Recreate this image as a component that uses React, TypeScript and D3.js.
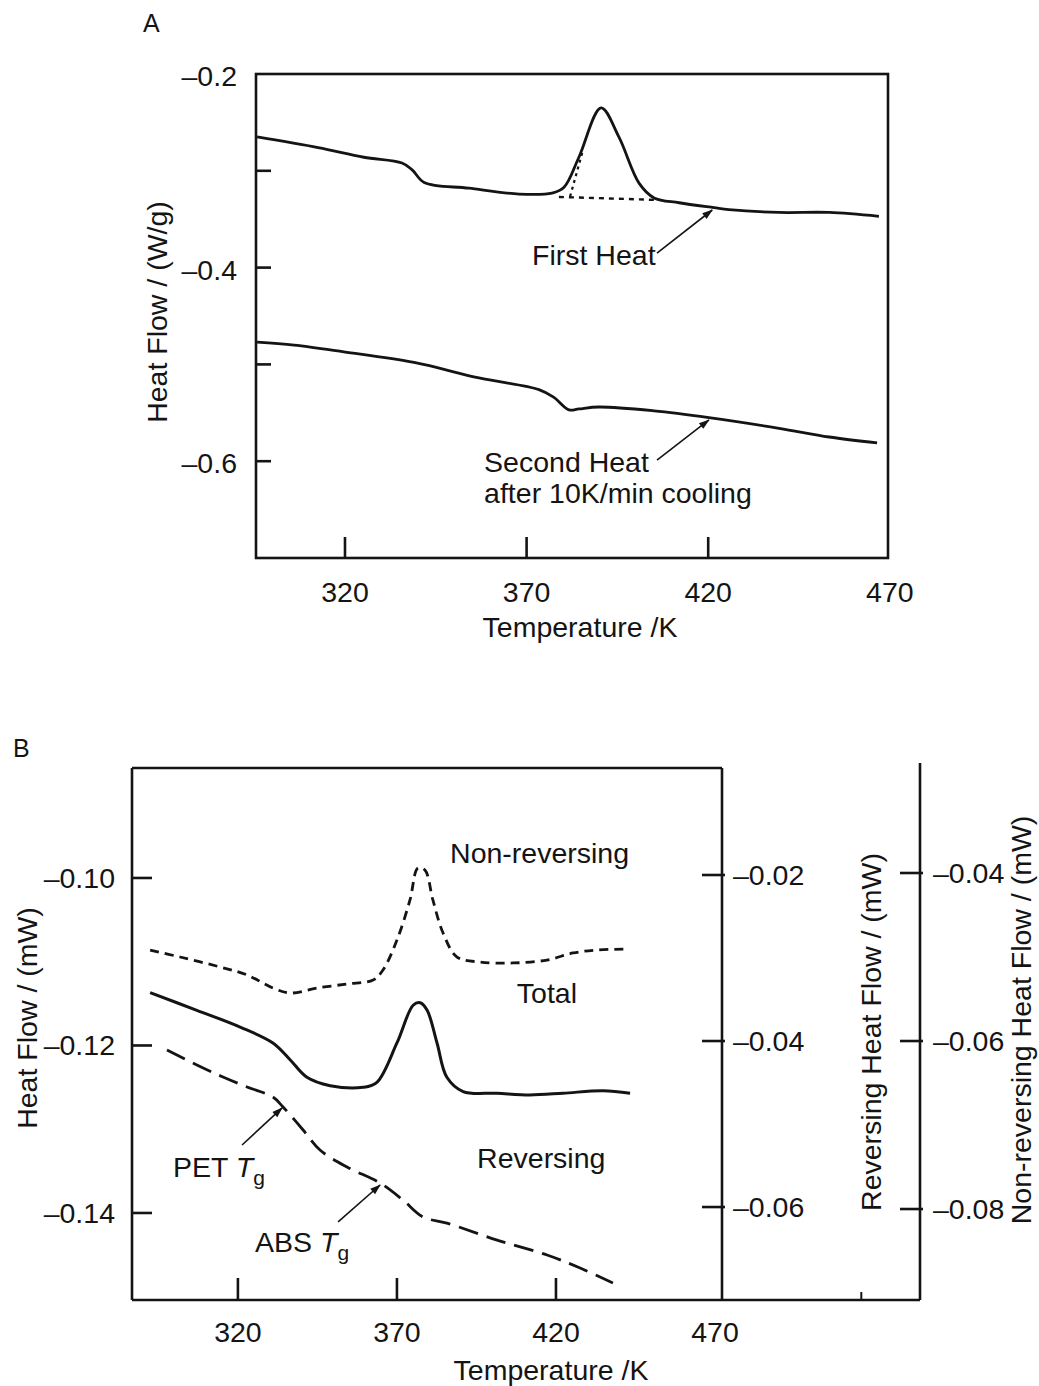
import React from "react";
import * as d3 from "d3";

// ---------------- Panel A data ----------------
const aXTickLabels = [320, 370, 420, 470];
const aXTickMarks = [320, 370, 420];
const aYTickMarks = [-0.3, -0.4, -0.5, -0.6];
const aYTickLabels = [-0.2, -0.4, -0.6];

const firstHeatT = [295.8, 312.6, 325.2, 335.7, 338.5, 341.8, 354.1, 367.9, 377.0, 380.3, 384.4, 390.5, 395.4, 401.0, 405.1, 412.0, 421.6, 425.7, 439.5, 453.3, 467.0];
const firstHeatHF = [-0.265, -0.276, -0.286, -0.292, -0.299, -0.312, -0.318, -0.324, -0.323, -0.317, -0.286, -0.235, -0.265, -0.313, -0.328, -0.333, -0.338, -0.340, -0.343, -0.343, -0.347];

const secondHeatT = [295.8, 306.0, 319.7, 339.0, 356.9, 373.4, 377.5, 381.7, 384.4, 389.9, 405.1, 420.2, 439.5, 453.3, 466.5];
const secondHeatHF = [-0.477, -0.480, -0.487, -0.498, -0.514, -0.526, -0.534, -0.547, -0.546, -0.544, -0.548, -0.555, -0.566, -0.575, -0.581];

const baselineT = [378.9, 405.1];
const baselineHF = [-0.327, -0.330];
const flankT = [385.3, 381.9];
const flankHF = [-0.2816, -0.3275];

// ---------------- Panel B data ----------------
const bXTickMarks = [320, 370, 420];
const bXTickLabels = [320, 370, 420, 470];
const bLeftTicks = [-0.10, -0.12, -0.14];
const bRevTicks = [-0.02, -0.04, -0.06];
const bNonRevTicks = [-0.04, -0.06, -0.08];

const totalT = [292.4, 307.1, 320.7, 331.0, 336.4, 341.7, 349.0, 359.3, 363.7, 370.0, 375.1, 377.3, 379.5, 382.6, 385.7, 390.8, 401.5, 411.8, 422.2, 434.8, 443.3];
const totalHF = [-0.1137, -0.1158, -0.1178, -0.1197, -0.1217, -0.1238, -0.1248, -0.1250, -0.1244, -0.1197, -0.1152, -0.1149, -0.1158, -0.1197, -0.1238, -0.1255, -0.1257, -0.1259, -0.1257, -0.1254, -0.1257];

const nonRevT = [292.4, 301.8, 314.4, 322.9, 331.0, 336.4, 344.9, 354.3, 362.5, 365.6, 370.0, 374.1, 376.6, 378.8, 381.3, 384.5, 388.9, 396.1, 406.5, 417.2, 425.4, 432.9, 442.3];
const nonRevHF = [-0.04917, -0.05000, -0.05119, -0.05214, -0.05369, -0.05429, -0.05369, -0.05321, -0.05274, -0.05155, -0.04798, -0.04321, -0.03940, -0.03964, -0.04321, -0.04714, -0.05000, -0.05060, -0.05071, -0.05036, -0.04952, -0.04917, -0.04905];

const revT = [297.7, 307.1, 315.3, 322.9, 331.0, 334.2, 340.5, 345.8, 354.3, 364.7, 371.9, 378.2, 385.7, 401.5, 417.2, 427.6, 437.9];
const revHF = [-0.04108, -0.04289, -0.04434, -0.04554, -0.04675, -0.04795, -0.05072, -0.05313, -0.05518, -0.05711, -0.05916, -0.06120, -0.06193, -0.06398, -0.06578, -0.06735, -0.06916];

const zip = (a: number[], b: number[]): [number, number][] => a.map((v, i) => [v, b[i]]);
const fmt = (v: number, n: number) => "\u2013" + Math.abs(v).toFixed(n);

export default function App() {
  const font = "'Liberation Sans', Arial, Helvetica, sans-serif";
  const ink = "#141414";
  const fs = 28.5;

  // ---- Panel A scales ----
  const A = { left: 256, right: 888, top: 74, bottom: 558 };
  const xA = d3.scaleLinear().domain([295.5, 469.5]).range([A.left, A.right]);
  const yA = d3.scaleLinear().domain([-0.7, -0.2]).range([A.bottom, A.top]);
  const lineA = d3
    .line<[number, number]>()
    .x((d) => xA(d[0]))
    .y((d) => yA(d[1]))
    .curve(d3.curveCatmullRom.alpha(0.5));
  const lineAstraight = d3
    .line<[number, number]>()
    .x((d) => xA(d[0]))
    .y((d) => yA(d[1]));

  // ---- Panel B scales ----
  const B = { left: 132, right: 722, top: 768, bottom: 1300, outer: 920 };
  const xB = d3.scaleLinear().domain([286.7, 472.2]).range([B.left, B.right]);
  const yB = d3.scaleLinear().domain([-0.15039, -0.08687]).range([B.bottom, B.top]);
  const yRev = d3.scaleLinear().domain([-0.0712, -0.00711]).range([B.bottom, B.top]);
  const yNR = d3.scaleLinear().domain([-0.09083, -0.0275]).range([B.bottom, B.top]);
  const mk = (ys: d3.ScaleLinear<number, number>) =>
    d3
      .line<[number, number]>()
      .x((d) => xB(d[0]))
      .y((d) => ys(d[1]))
      .curve(d3.curveCatmullRom.alpha(0.5));

  const arrow = (x1: number, y1: number, x2: number, y2: number, key: string) => (
    <line key={key} x1={x1} y1={y1} x2={x2} y2={y2} stroke={ink} strokeWidth={1.6} markerEnd="url(#arrowhead)" />
  );

  return (
    <svg
      width={1039}
      height={1386}
      viewBox="0 0 1039 1386"
      style={{ position: "absolute", left: 0, top: 0, background: "#fff" }}
      fontFamily={font}
      fill={ink}
    >
      <defs>
        <marker id="arrowhead" viewBox="0 0 12 10" refX="11" refY="5" markerWidth="13" markerHeight="9" markerUnits="userSpaceOnUse" orient="auto">
          <path d="M0,1 L12,5 L0,9 z" fill={ink} />
        </marker>
      </defs>
      <rect x={0} y={0} width={1039} height={1386} fill="#fff" />

      {/* ================= Panel A ================= */}
      <text x={143} y={32} fontSize={25}>A</text>
      <rect x={A.left} y={A.top} width={A.right - A.left} height={A.bottom - A.top} fill="none" stroke={ink} strokeWidth={2.6} />
      {aYTickMarks.map((v) => (
        <line key={"ayt" + v} x1={A.left} x2={A.left + 15} y1={yA(v)} y2={yA(v)} stroke={ink} strokeWidth={2.6} />
      ))}
      {aYTickLabels.map((v) => (
        <text key={"ayl" + v} x={A.left - 19} y={yA(v) + 2} fontSize={fs} textAnchor="end" dominantBaseline="central">
          {fmt(v, 1)}
        </text>
      ))}
      {aXTickMarks.map((v) => (
        <line key={"axt" + v} x1={xA(v)} x2={xA(v)} y1={A.bottom} y2={A.bottom - 21} stroke={ink} strokeWidth={2.6} />
      ))}
      {aXTickLabels.map((v) => (
        <text key={"axl" + v} x={xA(v)} y={602} fontSize={fs} textAnchor="middle">
          {v}
        </text>
      ))}
      <text x={580} y={637} fontSize={fs} textAnchor="middle">Temperature /K</text>
      <text transform={`translate(157,312) rotate(-90)`} fontSize={fs} textAnchor="middle" dominantBaseline="central">
        Heat Flow / (W/g)
      </text>

      <path d={lineA(zip(firstHeatT, firstHeatHF)) || ""} fill="none" stroke={ink} strokeWidth={2.8} strokeLinejoin="round" />
      <path d={lineA(zip(secondHeatT, secondHeatHF)) || ""} fill="none" stroke={ink} strokeWidth={2.8} strokeLinejoin="round" />
      <path d={lineAstraight(zip(baselineT, baselineHF)) || ""} fill="none" stroke={ink} strokeWidth={2.4} strokeDasharray="5,5" />
      <path d={lineAstraight(zip(flankT, flankHF)) || ""} fill="none" stroke={ink} strokeWidth={2.2} strokeDasharray="3,4" />

      {arrow(xA(405.9), yA(-0.385), xA(421.1), yA(-0.3405), "a1")}
      <text x={xA(371.5)} y={yA(-0.3973)} fontSize={fs}>First Heat</text>
      {arrow(xA(405.9), yA(-0.5988), xA(420.2), yA(-0.5574), "a2")}
      <text x={xA(358.3)} y={yA(-0.6112)} fontSize={fs}>Second Heat</text>
      <text x={xA(358.3)} y={yA(-0.6432)} fontSize={fs}>after 10K/min cooling</text>

      {/* ================= Panel B ================= */}
      <text x={13} y={757} fontSize={25}>B</text>
      <line x1={B.left} x2={B.right} y1={B.top} y2={B.top} stroke={ink} strokeWidth={2.6} />
      <line x1={B.left} x2={B.left} y1={B.top} y2={B.bottom} stroke={ink} strokeWidth={2.6} />
      <line x1={B.right} x2={B.right} y1={B.top} y2={B.bottom} stroke={ink} strokeWidth={2.6} />
      <line x1={B.left} x2={B.outer} y1={B.bottom} y2={B.bottom} stroke={ink} strokeWidth={2.6} />
      <line x1={B.outer} x2={B.outer} y1={B.top - 5} y2={B.bottom} stroke={ink} strokeWidth={2.6} />
      <line x1={xB(516)} x2={xB(516)} y1={B.bottom} y2={B.bottom - 8} stroke={ink} strokeWidth={2} />

      {bLeftTicks.map((v) => (
        <line key={"blt" + v} x1={B.left} x2={B.left + 20} y1={yB(v)} y2={yB(v)} stroke={ink} strokeWidth={2.6} />
      ))}
      {bLeftTicks.map((v) => (
        <text key={"bll" + v} x={B.left - 17} y={yB(v)} fontSize={fs} textAnchor="end" dominantBaseline="central">
          {fmt(v, 2)}
        </text>
      ))}
      {bRevTicks.map((v) => (
        <line key={"brt" + v} x1={B.right - 20} x2={B.right + 3} y1={yRev(v)} y2={yRev(v)} stroke={ink} strokeWidth={2.6} />
      ))}
      {bRevTicks.map((v) => (
        <text key={"brl" + v} x={B.right + 11} y={yRev(v)} fontSize={fs} dominantBaseline="central">
          {fmt(v, 2)}
        </text>
      ))}
      {bNonRevTicks.map((v) => (
        <line key={"bnt" + v} x1={B.outer - 20} x2={B.outer + 3} y1={yNR(v)} y2={yNR(v)} stroke={ink} strokeWidth={2.6} />
      ))}
      {bNonRevTicks.map((v) => (
        <text key={"bnl" + v} x={B.outer + 13} y={yNR(v)} fontSize={fs} dominantBaseline="central">
          {fmt(v, 2)}
        </text>
      ))}
      {bXTickMarks.map((v) => (
        <line key={"bxt" + v} x1={xB(v)} x2={xB(v)} y1={B.bottom} y2={B.bottom - 22} stroke={ink} strokeWidth={2.6} />
      ))}
      {bXTickLabels.map((v) => (
        <text key={"bxl" + v} x={xB(v)} y={1342} fontSize={fs} textAnchor="middle">
          {v}
        </text>
      ))}
      <text x={551} y={1380} fontSize={fs} textAnchor="middle">Temperature /K</text>
      <text transform={`translate(27,1018) rotate(-90)`} fontSize={fs} textAnchor="middle" dominantBaseline="central">
        Heat Flow / (mW)
      </text>
      <text transform={`translate(871,1032) rotate(-90)`} fontSize={fs} textAnchor="middle" dominantBaseline="central">
        Reversing Heat Flow / (mW)
      </text>
      <text transform={`translate(1021,1020) rotate(-90)`} fontSize={fs} textAnchor="middle" dominantBaseline="central">
        Non-reversing Heat Flow / (mW)
      </text>

      <path d={mk(yNR)(zip(nonRevT, nonRevHF)) || ""} fill="none" stroke={ink} strokeWidth={2.8} strokeDasharray="9,6" />
      <path d={mk(yB)(zip(totalT, totalHF)) || ""} fill="none" stroke={ink} strokeWidth={3} strokeLinejoin="round" />
      <path d={mk(yRev)(zip(revT, revHF)) || ""} fill="none" stroke={ink} strokeWidth={2.8} strokeDasharray="20,9" />

      <text x={xB(386.7)} y={yB(-0.09821)} fontSize={fs}>Non-reversing</text>
      <text x={xB(407.7)} y={yB(-0.11493)} fontSize={fs}>Total</text>
      <text x={xB(395.2)} y={yB(-0.13463)} fontSize={fs}>Reversing</text>

      {arrow(xB(321.3), yB(-0.13188), xB(333.9), yB(-0.12746), "b1")}
      <text x={xB(299.6)} y={yB(-0.1357)} fontSize={fs}>
        PET <tspan fontStyle="italic">T</tspan>
        <tspan dy={8} fontSize={21}>g</tspan>
      </text>
      {arrow(xB(351.5), yB(-0.14107), xB(364.7), yB(-0.13666), "b2")}
      <text x={xB(325.4)} y={yB(-0.14466)} fontSize={fs}>
        ABS <tspan fontStyle="italic">T</tspan>
        <tspan dy={8} fontSize={21}>g</tspan>
      </text>
    </svg>
  );
}
